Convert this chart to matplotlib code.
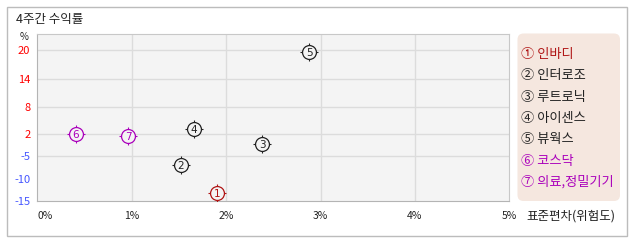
import numpy as np
import matplotlib
matplotlib.use("Agg")
import matplotlib.pyplot as plt
from matplotlib.patches import Rectangle, FancyBboxPatch

plt.rcParams['font.family'] = ['Noto Sans CJK KR', 'DejaVu Sans']

# data
names = ["인바디", "인터로조", "루트로닉", "아이센스", "뷰웍스", "코스닥", "의료,정밀기기"]
labels = ["①", "②", "③", "④", "⑤", "⑥", "⑦"]
risk = [1.90, 1.52, 2.38, 1.66, 2.88, 0.41, 0.96]        # 표준편차 (%)
ret = [-13.2, -6.9, -1.2, 3.2, 19.5, 2.0, 1.5]           # 4주간 수익률 (%)
colors = ["#b01515", "#222222", "#222222", "#222222", "#222222", "#aa00bb", "#aa00bb"]
yticks = [-15, -10, -5, 2, 8, 14, 20]
ygrid = [-5, 2, 8, 14, 20]
xticks = [0, 1, 2, 3, 4, 5]

# piecewise y scale (the original chart spaces the ticks unevenly)
yv = [-15, -10, -5, 2, 8, 14, 20, 23.4]
yp = [0, 22.3, 44.7, 66.7, 94.3, 122.3, 151, 166.7]


def fwd(v):
    return np.interp(v, yv, yp, left=-1, right=170)


def inv(p):
    return np.interp(p, yp, yv)


W, H = 638, 242
fig = plt.figure(figsize=(W / 100, H / 100), dpi=100)
px = lambda x, y: (x / W, 1 - y / H)

# outer frame
fig.patches.append(Rectangle(px(6.5, 235.5), 620.5 / W, 228.5 / H, transform=fig.transFigure,
                             fill=False, edgecolor="#bcbcbc", lw=1))

ax = fig.add_axes([37.3 / W, 1 - 201 / H, 472 / W, 166.7 / H])
ax.set_facecolor("#f4f4f4")
ax.set_yscale("function", functions=(fwd, inv))
ax.set_xlim(0, 5)
ax.set_ylim(-15, 23.4)

for v in ygrid:
    ax.axhline(v, color="#dcdcdc", lw=1, zorder=0)
for v in xticks[1:-1]:
    ax.axvline(v, color="#dcdcdc", lw=1, zorder=0)

for s in ax.spines.values():
    s.set_color("#c8c8c8")
ax.spines["left"].set_color("#b4b4b4")
ax.spines["bottom"].set_color("#b4b4b4")

ax.set_yticks(yticks)
ax.set_yticklabels([str(t) for t in yticks], fontsize=8)
for t, v in zip(ax.get_yticklabels(), yticks):
    t.set_color("#ff0000" if v > 0 else "#4455ff")
ax.set_xticks(xticks)
ax.set_xticklabels(["%d%%" % t for t in xticks], fontsize=7.5, color="#222222")
ax.get_xticklabels()[0].set_ha("left")
ax.tick_params(length=0, pad=5)
ax.tick_params(axis="x", pad=7)

for i, (x, y, c) in enumerate(zip(risk, ret, colors)):
    ax.plot(x, y, marker="+", ms=12.5, mew=0.8, color=c, zorder=3)
    ax.plot(x, y, marker="o", ms=10, mew=0.9, mfc="#f4f4f4", mec=c, zorder=4)
    ax.text(x, y - 0.2, str(i + 1), ha="center", va="center", fontsize=7.5,
            color=c, zorder=5, family="DejaVu Sans")

# texts
fig.text(*px(16, 20), "4주간 수익률", fontsize=9, va="center", ha="left", color="#222222")
fig.text(*px(24, 37), "%", fontsize=7, va="center", ha="center", color="#222222")
fig.text(*px(526, 216), "표준편차(위험도)", fontsize=9, va="center", ha="left", color="#222222")

# legend box
box = FancyBboxPatch((517.5 / 100, (H - 201) / 100), 102.5 / 100, 167.5 / 100,
                     boxstyle="round,pad=0,rounding_size=0.06", transform=fig.dpi_scale_trans,
                     facecolor="#f5e7df", edgecolor="none")
fig.patches.append(box)
for i, (lab, n, c) in enumerate(zip(labels, names, colors)):
    fig.text(*px(521, 54.5 + i * 21.3), lab + " " + n, fontsize=9.5, va="center", ha="left", color=c)

fig.savefig("out.png", dpi=100)
